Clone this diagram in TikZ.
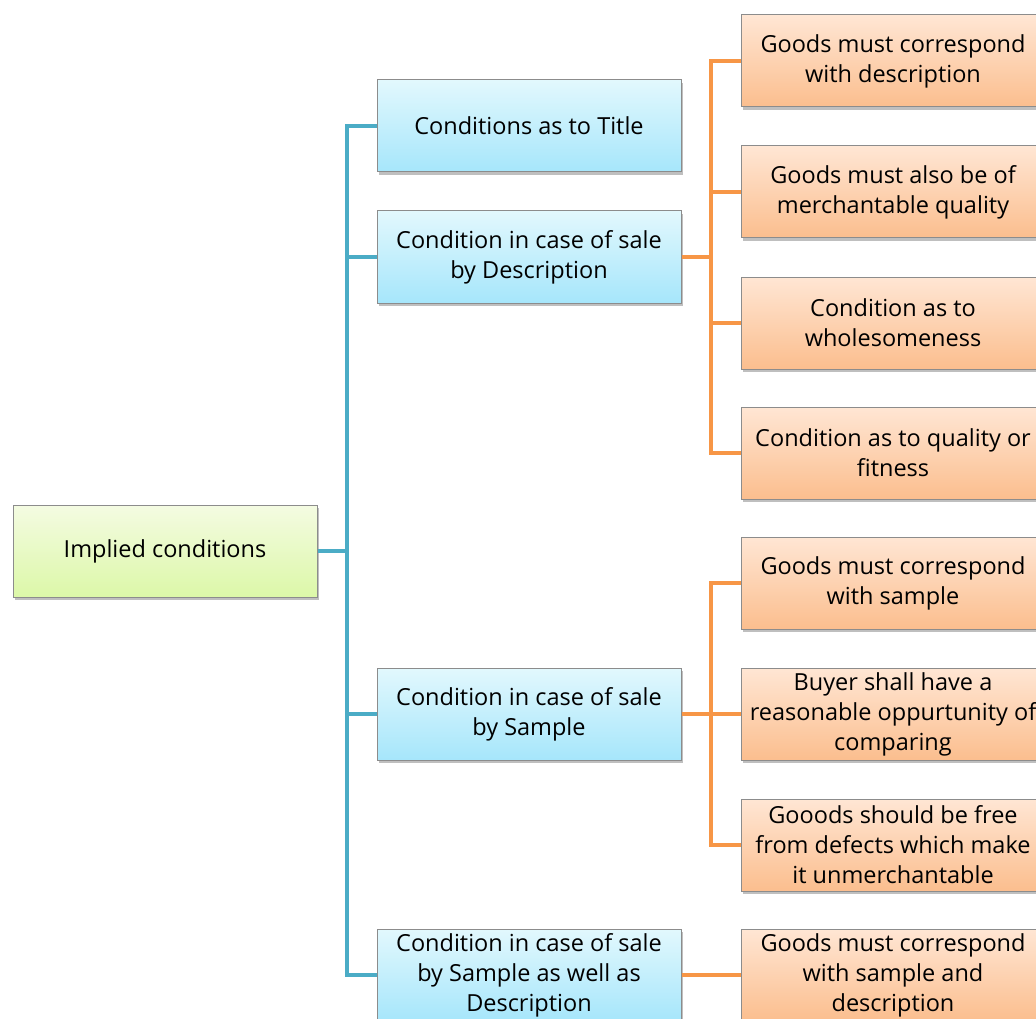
\documentclass[tikz,border=0pt]{standalone}
\usepackage{fontspec}
\setmainfont{Open Sans}
\usetikzlibrary{shadows}
\definecolor{bluetop}{HTML}{E2F8FD}
\definecolor{bluebot}{HTML}{A6E6FB}
\definecolor{orangetop}{HTML}{FFE6D4}
\definecolor{orangebot}{HTML}{FBBE8E}
\definecolor{greentop}{HTML}{F4FBE2}
\definecolor{greenbot}{HTML}{DCF8A8}
\definecolor{blueline}{HTML}{4BACC6}
\definecolor{orangeline}{HTML}{F79646}
\definecolor{boxborder}{HTML}{8C8C8C}
\begin{document}
\begin{tikzpicture}[x=1pt,y=-1pt,
  box/.style={draw=boxborder, line width=1pt, minimum width=304pt, minimum height=92pt,
    align=center, font=\fontsize{23.5}{30}\selectfont, inner sep=2pt,
    drop shadow={shadow xshift=2pt, shadow yshift=-3pt, opacity=0.25, fill=black}},
  bluebox/.style={box, top color=bluetop, bottom color=bluebot},
  orangebox/.style={box, top color=orangetop, bottom color=orangebot},
  greenbox/.style={box, top color=greentop, bottom color=greenbot},
  bline/.style={draw=blueline, line width=4.5pt},
  oline/.style={draw=orangeline, line width=4.5pt}]
\useasboundingbox (0,0) rectangle (1036,1019);
\clip (0,0) rectangle (1036,1019);
\fill[white] (0,0) rectangle (1036,1019);

\coordinate (bj) at (347,551);
\coordinate (oj1) at (711,257);
\coordinate (oj2) at (711,714);

\node[greenbox] (root) at (165,551) {Implied conditions};
\node[bluebox] (t1) at (529,126) {Conditions as to Title};
\node[bluebox] (t2) at (529,257) {Condition in case of sale\\by Description};
\node[bluebox] (t3) at (529,714) {Condition in case of sale\\by Sample};
\node[bluebox] (t4) at (529,975) {Condition in case of sale\\by Sample as well as\\Description};

\node[orangebox] (o1) at (893,61) {Goods must correspond\\with description};
\node[orangebox] (o2) at (893,192) {Goods must also be of\\merchantable quality};
\node[orangebox] (o3) at (893,323) {Condition as to\\wholesomeness};
\node[orangebox] (o4) at (893,453) {Condition as to quality or\\fitness};
\node[orangebox] (o5) at (893,583) {Goods must correspond\\with sample};
\node[orangebox] (o6) at (893,714) {Buyer shall have a\\reasonable oppurtunity of\\comparing};
\node[orangebox] (o7) at (893,845) {Gooods should be free\\from defects which make\\it unmerchantable};
\node[orangebox] (o8) at (893,975) {Goods must correspond\\with sample and\\description};

\draw[bline] (root.east) -- (bj);
\draw[bline] (t1.west) -| (bj) |- (t4.west);
\draw[bline] (bj |- t2.west) -- (t2.west);
\draw[bline] (bj |- t3.west) -- (t3.west);

\draw[oline] (t2.east) -- (oj1);
\draw[oline] (o1.west) -| (oj1) |- (o4.west);
\draw[oline] (oj1 |- o2.west) -- (o2.west);
\draw[oline] (oj1 |- o3.west) -- (o3.west);

\draw[oline] (t3.east) -- (o6.west);
\draw[oline] (o5.west) -| (oj2) |- (o7.west);

\draw[oline] (t4.east) -- (o8.west);
\end{tikzpicture}
\end{document}
